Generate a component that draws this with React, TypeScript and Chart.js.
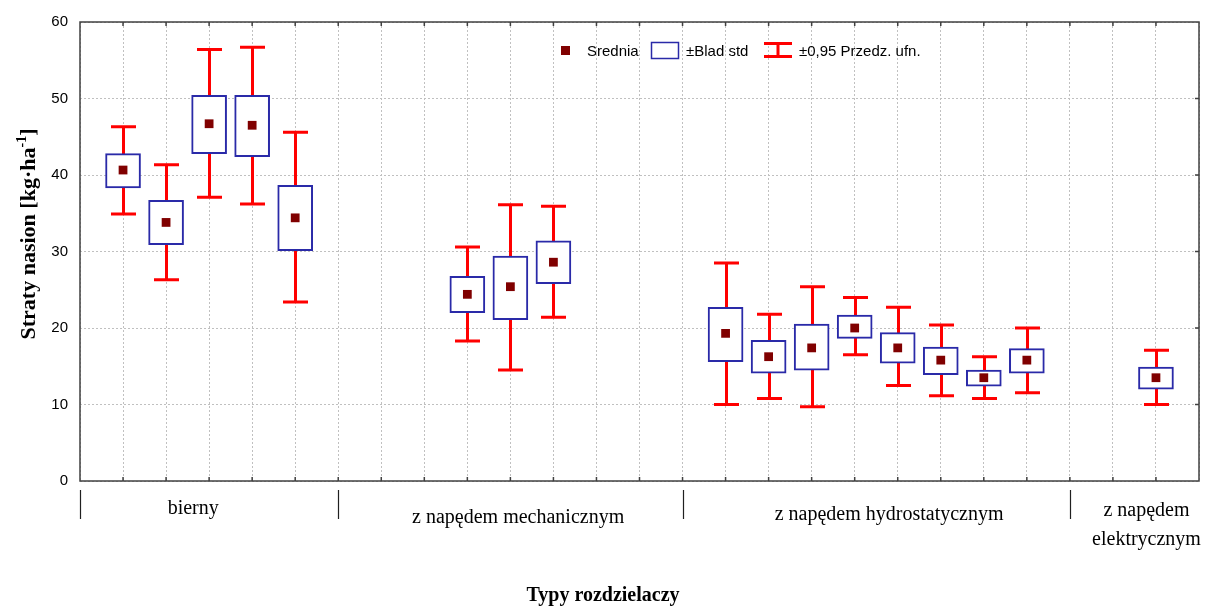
import React, { useEffect, useRef } from "react";
import { Chart, registerables } from "chart.js";

Chart.register(...registerables);

// ---- data ----
const slots = [1, 2, 3, 4, 5, 9, 10, 11, 15, 16, 17, 18, 19, 20, 21, 22, 25];
const means = [40.65, 33.8, 46.7, 46.5, 34.4, 24.4, 25.4, 28.6, 19.3, 16.25, 17.4, 20.0, 17.4, 15.8, 13.5, 15.8, 13.5];
const seLow = [38.3, 30.9, 42.8, 42.4, 30.1, 22.0, 21.1, 25.8, 15.6, 14.1, 14.5, 18.65, 15.4, 13.9, 12.4, 14.1, 12.0];
const seHigh = [42.8, 36.7, 50.4, 50.4, 38.65, 26.75, 29.4, 31.4, 22.7, 18.4, 20.5, 21.7, 19.4, 17.5, 14.5, 17.3, 14.9];
const ciLow = [34.9, 26.3, 37.1, 36.2, 23.4, 18.3, 14.5, 21.4, 10.0, 10.8, 9.7, 16.5, 12.5, 11.15, 10.8, 11.55, 10.0];
const ciHigh = [46.3, 41.35, 56.4, 56.7, 45.6, 30.6, 36.1, 35.9, 28.5, 21.8, 25.4, 24.0, 22.7, 20.4, 16.25, 20.0, 17.1];

const groupLabels = [["bierny"], ["z napędem mechanicznym"], ["z napędem hydrostatycznym"], ["z napędem", "elektrycznym"]];
const groupSeparators = [0, 6, 14, 23];
const xMin = 0;
const xMax = 26;
const yMin = 0;
const yMax = 60;
const yStep = 10;
const xTitle = "Typy rozdzielaczy";
const yTitleMain = "Straty nasion [kg·ha";
const yTitleSup = "-1";
const yTitleEnd = "]";
const legendLabels = ["Srednia", "±Blad std", "±0,95 Przedz. ufn."];

// ---- styles / layout ----
const RED = "#ff0000";
const BLUE = "#2a2aa8";
const MEAN = "#800000";
const FRAME = "#404040";
const GRID = "#c0c0c0";
const SERIF = '"Liberation Serif", "Times New Roman", serif';
const SANS = '"Liberation Sans", Arial, sans-serif';
// label anchors (in slot units) for the group labels
const labelAnchors = [2.63, 10.18, 18.8, 24.78];
const labelBaselines = [[514], [523], [520], [516, 545]];

const decorPlugin = {
  id: "decor",
  beforeDatasetsDraw(chart: any) {
    const { ctx, scales } = chart;
    const x = scales.x;
    const y = scales.y;
    ctx.save();
    ctx.strokeStyle = RED;
    ctx.lineWidth = 3;
    ctx.lineCap = "butt";
    slots.forEach((s, i) => {
      const px = Math.round(x.getPixelForValue(s)) + 0.5;
      const top = y.getPixelForValue(ciHigh[i]);
      const bot = y.getPixelForValue(ciLow[i]);
      ctx.beginPath();
      ctx.moveTo(px, top);
      ctx.lineTo(px, bot);
      ctx.moveTo(px - 12.5, top);
      ctx.lineTo(px + 12.5, top);
      ctx.moveTo(px - 12.5, bot);
      ctx.lineTo(px + 12.5, bot);
      ctx.stroke();
    });
    ctx.restore();
  },
  afterDraw(chart: any) {
    const { ctx, chartArea, scales } = chart;
    const x = scales.x;
    const y = scales.y;
    const { left, right, top, bottom } = chartArea;
    ctx.save();
    // frame
    ctx.strokeStyle = FRAME;
    ctx.lineWidth = 1.5;
    ctx.strokeRect(left, top, right - left, bottom - top);
    // inward ticks
    ctx.lineWidth = 1.5;
    ctx.beginPath();
    for (let v = xMin + 1; v < xMax; v++) {
      const px = x.getPixelForValue(v);
      ctx.moveTo(px, top);
      ctx.lineTo(px, top + 4);
      ctx.moveTo(px, bottom);
      ctx.lineTo(px, bottom - 4);
    }
    for (let v = yMin + yStep; v < yMax; v += yStep) {
      const py = y.getPixelForValue(v);
      ctx.moveTo(right, py);
      ctx.lineTo(right - 4, py);
    }
    ctx.stroke();

    // group separators
    ctx.strokeStyle = "#202020";
    ctx.lineWidth = 1.2;
    ctx.beginPath();
    groupSeparators.forEach((s) => {
      const px = Math.round(x.getPixelForValue(s)) + 0.5;
      ctx.moveTo(px, bottom + 9);
      ctx.lineTo(px, bottom + 38);
    });
    ctx.stroke();

    // group labels
    ctx.fillStyle = "#000";
    ctx.font = `20px ${SERIF}`;
    ctx.textAlign = "center";
    ctx.textBaseline = "alphabetic";
    groupLabels.forEach((lines, gi) => {
      const px = x.getPixelForValue(labelAnchors[gi]);
      lines.forEach((t, li) => ctx.fillText(t, px, labelBaselines[gi][li]));
    });

    // x title
    ctx.font = `bold 20px ${SERIF}`;
    ctx.fillText(xTitle, 603, 601);

    // y title (rotated, with superscript)
    ctx.save();
    ctx.translate(35, 234);
    ctx.rotate(-Math.PI / 2);
    ctx.textAlign = "left";
    const mainFont = `bold 22px ${SERIF}`;
    const supFont = `bold 14px ${SERIF}`;
    ctx.font = mainFont;
    const w1 = ctx.measureText(yTitleMain).width;
    const w3 = ctx.measureText(yTitleEnd).width;
    ctx.font = supFont;
    const w2 = ctx.measureText(yTitleSup).width;
    const total = w1 + w2 + w3;
    let cx = -total / 2;
    ctx.font = mainFont;
    ctx.fillText(yTitleMain, cx, 0);
    cx += w1;
    ctx.font = supFont;
    ctx.fillText(yTitleSup, cx, -9);
    cx += w2;
    ctx.font = mainFont;
    ctx.fillText(yTitleEnd, cx, 0);
    ctx.restore();

    // legend
    ctx.textAlign = "left";
    ctx.font = `15px ${SANS}`;
    ctx.fillStyle = MEAN;
    ctx.fillRect(561, 46, 9, 9);
    ctx.fillStyle = "#000";
    ctx.fillText(legendLabels[0], 587, 56);
    ctx.strokeStyle = BLUE;
    ctx.lineWidth = 1.5;
    ctx.strokeRect(651.5, 42.5, 27, 16);
    ctx.fillText(legendLabels[1], 686, 56);
    ctx.strokeStyle = RED;
    ctx.lineWidth = 3;
    ctx.beginPath();
    ctx.moveTo(764, 43.5);
    ctx.lineTo(792, 43.5);
    ctx.moveTo(778, 43.5);
    ctx.lineTo(778, 56.5);
    ctx.moveTo(764, 56.5);
    ctx.lineTo(792, 56.5);
    ctx.stroke();
    ctx.fillText(legendLabels[2], 799, 56);
    ctx.restore();
  },
};

export default function App() {
  const ref = useRef<HTMLCanvasElement | null>(null);
  useEffect(() => {
    if (!ref.current) return;
    const chart = new Chart(ref.current, {
      type: "bar",
      data: {
        datasets: [
          {
            type: "scatter",
            label: legendLabels[0],
            data: slots.map((s, i) => ({ x: s, y: means[i] })),
            pointStyle: "rect",
            pointRadius: 6.2,
            pointBackgroundColor: MEAN,
            pointBorderWidth: 0,
            showLine: false,
            order: 1,
          } as any,
          {
            type: "bar",
            label: legendLabels[1],
            data: slots.map((s, i) => ({ x: s, y: [seLow[i], seHigh[i]] })) as any,
            backgroundColor: "#ffffff",
            borderColor: BLUE,
            borderWidth: 2,
            borderSkipped: false,
            barThickness: 35,
            grouped: false,
            order: 2,
          } as any,
        ],
      },
      options: {
        responsive: false,
        animation: false,
        events: [],
        layout: { padding: { top: 22, right: 13, left: 0, bottom: 0 } },
        plugins: { legend: { display: false }, tooltip: { enabled: false } },
        scales: {
          x: {
            type: "linear",
            min: xMin,
            max: xMax,
            offset: false,
            ticks: { display: false, stepSize: 1 },
            grid: { color: GRID, lineWidth: 1, drawTicks: false, offset: false },
            border: { display: false, dash: [2, 2] },
            afterFit: (s: any) => {
              s.height = 127;
            },
          },
          y: {
            type: "linear",
            min: yMin,
            max: yMax,
            ticks: {
              stepSize: yStep,
              color: "#000",
              padding: 12,
              font: { family: SANS, size: 15 },
            },
            grid: { color: GRID, lineWidth: 1, drawTicks: false },
            border: { display: false, dash: [2, 2] },
            afterFit: (s: any) => {
              s.width = 80;
            },
          },
        },
      } as any,
      plugins: [decorPlugin],
    });
    return () => chart.destroy();
  }, []);
  return (
    <div style={{ position: "absolute", left: 0, top: 0, width: 1212, height: 608, background: "#fff" }}>
      <canvas ref={ref} width={1212} height={608} style={{ width: 1212, height: 608, display: "block" }} />
    </div>
  );
}
